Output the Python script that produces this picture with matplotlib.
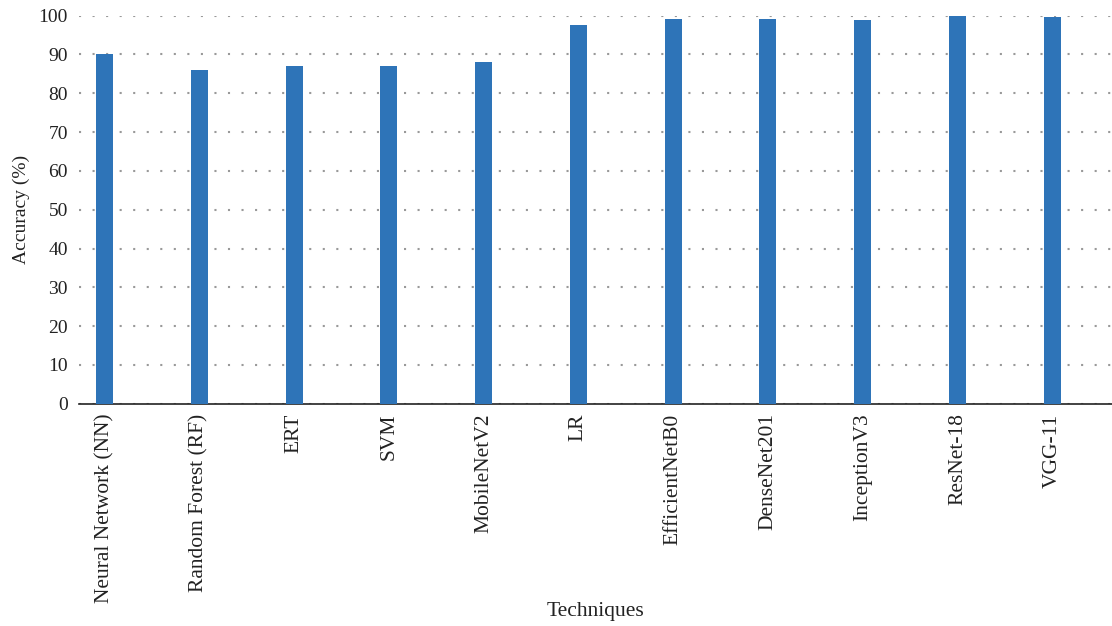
import matplotlib
matplotlib.use("Agg")
import matplotlib.pyplot as plt

techniques = ["Neural Network (NN)", "Random Forest (RF)", "ERT", "SVM", "MobileNetV2",
              "LR", "EfficientNetB0", "DenseNet201", "InceptionV3", "ResNet-18", "VGG-11"]
accuracy = [90, 86, 87, 87, 88, 97.7, 99.2, 99.2, 99.0, 100, 99.7]
y_ticks = list(range(0, 101, 10))

plt.rcParams['font.family'] = ['Liberation Serif', 'DejaVu Serif']

fig = plt.figure(figsize=(11.12, 6.26), dpi=100)
ax = fig.add_axes([0.071, 0.355, 0.929, 0.62])

x = list(range(len(techniques)))
ax.bar(x, accuracy, width=0.18, color="#2E74B8", zorder=3)

ax.set_ylim(0, 100)
ax.set_xlim(-0.27, 10.63)
ax.set_yticks(y_ticks)
ax.set_xticks(x)
ax.set_xticklabels(techniques, rotation=90, fontsize=15.5, color="#222222")
ax.tick_params(axis="y", length=0, labelsize=14, labelcolor="#222222", pad=8)
ax.tick_params(axis="x", length=0, pad=7)
ax.yaxis.grid(True, linestyle=(0, (1, 5.5)), color="#999999", linewidth=1.5, zorder=0)

for s in ["top", "right", "left"]:
    ax.spines[s].set_visible(False)
ax.spines["bottom"].set_color("#222222")
ax.spines["bottom"].set_linewidth(1.2)

ax.set_ylabel("Accuracy (%)", fontsize=14, color="#222222", labelpad=6)
ax.set_xlabel("Techniques", fontsize=15.5, color="#222222", va="center")
ax.xaxis.set_label_coords(0.5, -0.535)

fig.savefig("out.png", dpi=100)
